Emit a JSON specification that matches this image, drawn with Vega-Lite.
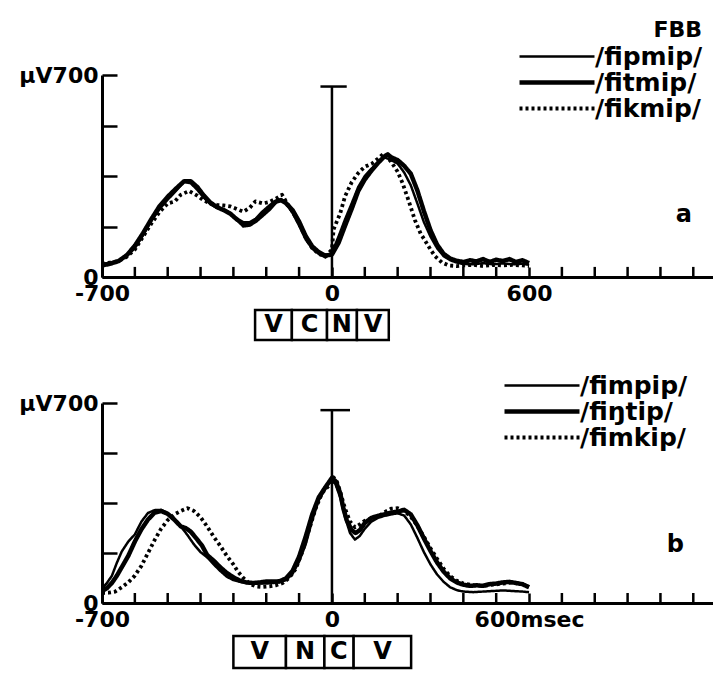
{
"$schema": "https://vega.github.io/schema/vega-lite/v6.json",
"background": "white",
"padding": {"left": 18, "top": 20, "right": 0, "bottom": 0},
"bounds": "flush",
"spacing": 33,
"datasets": {
"ticks": [{"t":-600},{"t":-500},{"t":-400},{"t":-300},{"t":-200},{"t":-100},{"t":100},{"t":200},{"t":300},{"t":400},{"t":500},{"t":700},{"t":800},{"t":900},{"t":1000},{"t":1100}],
"a_lines": [
{"s":"/fipmip/","t":-700,"v":45},{"s":"/fipmip/","t":-675,"v":50},{"s":"/fipmip/","t":-650,"v":56},{"s":"/fipmip/","t":-625,"v":72},{"s":"/fipmip/","t":-600,"v":100},{"s":"/fipmip/","t":-575,"v":145},{"s":"/fipmip/","t":-550,"v":195},{"s":"/fipmip/","t":-525,"v":235},{"s":"/fipmip/","t":-500,"v":268},{"s":"/fipmip/","t":-475,"v":298},{"s":"/fipmip/","t":-450,"v":330},{"s":"/fipmip/","t":-430,"v":325},{"s":"/fipmip/","t":-410,"v":302},{"s":"/fipmip/","t":-390,"v":275},{"s":"/fipmip/","t":-370,"v":252},{"s":"/fipmip/","t":-350,"v":240},{"s":"/fipmip/","t":-330,"v":235},{"s":"/fipmip/","t":-310,"v":222},{"s":"/fipmip/","t":-290,"v":198},{"s":"/fipmip/","t":-270,"v":175},{"s":"/fipmip/","t":-250,"v":178},{"s":"/fipmip/","t":-230,"v":192},{"s":"/fipmip/","t":-210,"v":212},{"s":"/fipmip/","t":-190,"v":232},{"s":"/fipmip/","t":-170,"v":258},{"s":"/fipmip/","t":-155,"v":270},{"s":"/fipmip/","t":-140,"v":255},{"s":"/fipmip/","t":-120,"v":222},{"s":"/fipmip/","t":-100,"v":178},{"s":"/fipmip/","t":-80,"v":130},{"s":"/fipmip/","t":-60,"v":98},{"s":"/fipmip/","t":-40,"v":80},{"s":"/fipmip/","t":-20,"v":68},{"s":"/fipmip/","t":0,"v":85},{"s":"/fipmip/","t":20,"v":140},{"s":"/fipmip/","t":40,"v":200},{"s":"/fipmip/","t":60,"v":255},{"s":"/fipmip/","t":80,"v":312},{"s":"/fipmip/","t":100,"v":350},{"s":"/fipmip/","t":120,"v":375},{"s":"/fipmip/","t":140,"v":395},{"s":"/fipmip/","t":160,"v":415},{"s":"/fipmip/","t":180,"v":405},{"s":"/fipmip/","t":200,"v":393},{"s":"/fipmip/","t":220,"v":362},{"s":"/fipmip/","t":240,"v":318},{"s":"/fipmip/","t":260,"v":255},{"s":"/fipmip/","t":280,"v":190},{"s":"/fipmip/","t":300,"v":140},{"s":"/fipmip/","t":320,"v":100},{"s":"/fipmip/","t":340,"v":72},{"s":"/fipmip/","t":360,"v":58},{"s":"/fipmip/","t":380,"v":50},{"s":"/fipmip/","t":400,"v":45},{"s":"/fipmip/","t":430,"v":44},{"s":"/fipmip/","t":460,"v":48},{"s":"/fipmip/","t":490,"v":44},{"s":"/fipmip/","t":520,"v":47},{"s":"/fipmip/","t":550,"v":44},{"s":"/fipmip/","t":580,"v":46},{"s":"/fipmip/","t":600,"v":42},
{"s":"/fitmip/","t":-700,"v":40},{"s":"/fitmip/","t":-675,"v":46},{"s":"/fitmip/","t":-650,"v":55},{"s":"/fitmip/","t":-625,"v":75},{"s":"/fitmip/","t":-600,"v":108},{"s":"/fitmip/","t":-575,"v":152},{"s":"/fitmip/","t":-550,"v":200},{"s":"/fitmip/","t":-525,"v":245},{"s":"/fitmip/","t":-500,"v":278},{"s":"/fitmip/","t":-475,"v":306},{"s":"/fitmip/","t":-450,"v":332},{"s":"/fitmip/","t":-430,"v":332},{"s":"/fitmip/","t":-410,"v":312},{"s":"/fitmip/","t":-390,"v":282},{"s":"/fitmip/","t":-370,"v":258},{"s":"/fitmip/","t":-350,"v":242},{"s":"/fitmip/","t":-330,"v":232},{"s":"/fitmip/","t":-310,"v":220},{"s":"/fitmip/","t":-290,"v":200},{"s":"/fitmip/","t":-270,"v":186},{"s":"/fitmip/","t":-250,"v":186},{"s":"/fitmip/","t":-230,"v":200},{"s":"/fitmip/","t":-210,"v":224},{"s":"/fitmip/","t":-190,"v":244},{"s":"/fitmip/","t":-170,"v":262},{"s":"/fitmip/","t":-155,"v":266},{"s":"/fitmip/","t":-140,"v":256},{"s":"/fitmip/","t":-120,"v":232},{"s":"/fitmip/","t":-100,"v":192},{"s":"/fitmip/","t":-80,"v":142},{"s":"/fitmip/","t":-60,"v":106},{"s":"/fitmip/","t":-40,"v":86},{"s":"/fitmip/","t":-20,"v":74},{"s":"/fitmip/","t":0,"v":78},{"s":"/fitmip/","t":20,"v":118},{"s":"/fitmip/","t":40,"v":178},{"s":"/fitmip/","t":60,"v":236},{"s":"/fitmip/","t":80,"v":298},{"s":"/fitmip/","t":100,"v":338},{"s":"/fitmip/","t":120,"v":368},{"s":"/fitmip/","t":140,"v":395},{"s":"/fitmip/","t":160,"v":418},{"s":"/fitmip/","t":170,"v":425},{"s":"/fitmip/","t":180,"v":415},{"s":"/fitmip/","t":200,"v":405},{"s":"/fitmip/","t":220,"v":385},{"s":"/fitmip/","t":240,"v":358},{"s":"/fitmip/","t":260,"v":300},{"s":"/fitmip/","t":280,"v":228},{"s":"/fitmip/","t":300,"v":162},{"s":"/fitmip/","t":320,"v":112},{"s":"/fitmip/","t":340,"v":80},{"s":"/fitmip/","t":360,"v":64},{"s":"/fitmip/","t":380,"v":56},{"s":"/fitmip/","t":400,"v":52},{"s":"/fitmip/","t":420,"v":58},{"s":"/fitmip/","t":440,"v":54},{"s":"/fitmip/","t":460,"v":62},{"s":"/fitmip/","t":480,"v":52},{"s":"/fitmip/","t":500,"v":60},{"s":"/fitmip/","t":520,"v":55},{"s":"/fitmip/","t":540,"v":62},{"s":"/fitmip/","t":560,"v":52},{"s":"/fitmip/","t":580,"v":58},{"s":"/fitmip/","t":600,"v":48},
{"s":"/fikmip/","t":-700,"v":45},{"s":"/fikmip/","t":-675,"v":50},{"s":"/fikmip/","t":-650,"v":55},{"s":"/fikmip/","t":-625,"v":70},{"s":"/fikmip/","t":-600,"v":95},{"s":"/fikmip/","t":-575,"v":140},{"s":"/fikmip/","t":-550,"v":185},{"s":"/fikmip/","t":-525,"v":225},{"s":"/fikmip/","t":-500,"v":255},{"s":"/fikmip/","t":-478,"v":262},{"s":"/fikmip/","t":-460,"v":285},{"s":"/fikmip/","t":-435,"v":298},{"s":"/fikmip/","t":-410,"v":282},{"s":"/fikmip/","t":-390,"v":265},{"s":"/fikmip/","t":-370,"v":255},{"s":"/fikmip/","t":-350,"v":250},{"s":"/fikmip/","t":-330,"v":248},{"s":"/fikmip/","t":-310,"v":245},{"s":"/fikmip/","t":-290,"v":236},{"s":"/fikmip/","t":-270,"v":226},{"s":"/fikmip/","t":-250,"v":240},{"s":"/fikmip/","t":-233,"v":262},{"s":"/fikmip/","t":-210,"v":255},{"s":"/fikmip/","t":-190,"v":260},{"s":"/fikmip/","t":-170,"v":272},{"s":"/fikmip/","t":-152,"v":285},{"s":"/fikmip/","t":-140,"v":262},{"s":"/fikmip/","t":-120,"v":226},{"s":"/fikmip/","t":-100,"v":186},{"s":"/fikmip/","t":-80,"v":136},{"s":"/fikmip/","t":-60,"v":100},{"s":"/fikmip/","t":-40,"v":80},{"s":"/fikmip/","t":-20,"v":72},{"s":"/fikmip/","t":0,"v":95},{"s":"/fikmip/","t":5,"v":165},{"s":"/fikmip/","t":25,"v":220},{"s":"/fikmip/","t":40,"v":280},{"s":"/fikmip/","t":60,"v":328},{"s":"/fikmip/","t":80,"v":360},{"s":"/fikmip/","t":100,"v":382},{"s":"/fikmip/","t":122,"v":393},{"s":"/fikmip/","t":140,"v":410},{"s":"/fikmip/","t":157,"v":427},{"s":"/fikmip/","t":180,"v":400},{"s":"/fikmip/","t":200,"v":365},{"s":"/fikmip/","t":215,"v":325},{"s":"/fikmip/","t":233,"v":266},{"s":"/fikmip/","t":253,"v":196},{"s":"/fikmip/","t":270,"v":150},{"s":"/fikmip/","t":283,"v":127},{"s":"/fikmip/","t":300,"v":95},{"s":"/fikmip/","t":314,"v":72},{"s":"/fikmip/","t":335,"v":50},{"s":"/fikmip/","t":356,"v":40},{"s":"/fikmip/","t":380,"v":38},{"s":"/fikmip/","t":400,"v":40},{"s":"/fikmip/","t":430,"v":42},{"s":"/fikmip/","t":460,"v":38},{"s":"/fikmip/","t":490,"v":42},{"s":"/fikmip/","t":520,"v":40},{"s":"/fikmip/","t":550,"v":42},{"s":"/fikmip/","t":580,"v":40},{"s":"/fikmip/","t":600,"v":38}
],
"b_lines": [
{"s":"/fimpip/","t":-700,"v":50},{"s":"/fimpip/","t":-685,"v":70},{"s":"/fimpip/","t":-670,"v":95},{"s":"/fimpip/","t":-655,"v":140},{"s":"/fimpip/","t":-640,"v":180},{"s":"/fimpip/","t":-620,"v":215},{"s":"/fimpip/","t":-600,"v":240},{"s":"/fimpip/","t":-580,"v":285},{"s":"/fimpip/","t":-560,"v":315},{"s":"/fimpip/","t":-540,"v":325},{"s":"/fimpip/","t":-520,"v":326},{"s":"/fimpip/","t":-500,"v":315},{"s":"/fimpip/","t":-480,"v":295},{"s":"/fimpip/","t":-460,"v":268},{"s":"/fimpip/","t":-440,"v":238},{"s":"/fimpip/","t":-420,"v":205},{"s":"/fimpip/","t":-400,"v":178},{"s":"/fimpip/","t":-380,"v":160},{"s":"/fimpip/","t":-360,"v":135},{"s":"/fimpip/","t":-340,"v":112},{"s":"/fimpip/","t":-320,"v":92},{"s":"/fimpip/","t":-300,"v":80},{"s":"/fimpip/","t":-280,"v":74},{"s":"/fimpip/","t":-260,"v":70},{"s":"/fimpip/","t":-240,"v":68},{"s":"/fimpip/","t":-220,"v":68},{"s":"/fimpip/","t":-200,"v":68},{"s":"/fimpip/","t":-180,"v":70},{"s":"/fimpip/","t":-160,"v":72},{"s":"/fimpip/","t":-140,"v":80},{"s":"/fimpip/","t":-120,"v":102},{"s":"/fimpip/","t":-100,"v":145},{"s":"/fimpip/","t":-80,"v":205},{"s":"/fimpip/","t":-60,"v":290},{"s":"/fimpip/","t":-40,"v":360},{"s":"/fimpip/","t":-20,"v":400},{"s":"/fimpip/","t":-5,"v":430},{"s":"/fimpip/","t":10,"v":418},{"s":"/fimpip/","t":25,"v":370},{"s":"/fimpip/","t":40,"v":300},{"s":"/fimpip/","t":55,"v":245},{"s":"/fimpip/","t":70,"v":222},{"s":"/fimpip/","t":85,"v":235},{"s":"/fimpip/","t":100,"v":260},{"s":"/fimpip/","t":120,"v":285},{"s":"/fimpip/","t":140,"v":298},{"s":"/fimpip/","t":160,"v":305},{"s":"/fimpip/","t":180,"v":310},{"s":"/fimpip/","t":200,"v":314},{"s":"/fimpip/","t":220,"v":306},{"s":"/fimpip/","t":240,"v":275},{"s":"/fimpip/","t":260,"v":228},{"s":"/fimpip/","t":280,"v":178},{"s":"/fimpip/","t":300,"v":135},{"s":"/fimpip/","t":320,"v":100},{"s":"/fimpip/","t":340,"v":74},{"s":"/fimpip/","t":360,"v":55},{"s":"/fimpip/","t":380,"v":45},{"s":"/fimpip/","t":400,"v":40},{"s":"/fimpip/","t":430,"v":38},{"s":"/fimpip/","t":460,"v":40},{"s":"/fimpip/","t":490,"v":42},{"s":"/fimpip/","t":520,"v":44},{"s":"/fimpip/","t":550,"v":42},{"s":"/fimpip/","t":580,"v":40},{"s":"/fimpip/","t":600,"v":38},
{"s":"/fiŋtip/","t":-700,"v":42},{"s":"/fiŋtip/","t":-685,"v":52},{"s":"/fiŋtip/","t":-670,"v":70},{"s":"/fiŋtip/","t":-655,"v":95},{"s":"/fiŋtip/","t":-640,"v":125},{"s":"/fiŋtip/","t":-620,"v":165},{"s":"/fiŋtip/","t":-600,"v":215},{"s":"/fiŋtip/","t":-580,"v":258},{"s":"/fiŋtip/","t":-560,"v":292},{"s":"/fiŋtip/","t":-540,"v":316},{"s":"/fiŋtip/","t":-520,"v":322},{"s":"/fiŋtip/","t":-500,"v":312},{"s":"/fiŋtip/","t":-480,"v":292},{"s":"/fiŋtip/","t":-460,"v":268},{"s":"/fiŋtip/","t":-445,"v":262},{"s":"/fiŋtip/","t":-430,"v":250},{"s":"/fiŋtip/","t":-410,"v":222},{"s":"/fiŋtip/","t":-395,"v":200},{"s":"/fiŋtip/","t":-380,"v":168},{"s":"/fiŋtip/","t":-360,"v":148},{"s":"/fiŋtip/","t":-340,"v":125},{"s":"/fiŋtip/","t":-320,"v":105},{"s":"/fiŋtip/","t":-300,"v":90},{"s":"/fiŋtip/","t":-280,"v":78},{"s":"/fiŋtip/","t":-260,"v":72},{"s":"/fiŋtip/","t":-240,"v":70},{"s":"/fiŋtip/","t":-220,"v":72},{"s":"/fiŋtip/","t":-200,"v":75},{"s":"/fiŋtip/","t":-180,"v":75},{"s":"/fiŋtip/","t":-160,"v":76},{"s":"/fiŋtip/","t":-140,"v":86},{"s":"/fiŋtip/","t":-120,"v":112},{"s":"/fiŋtip/","t":-100,"v":162},{"s":"/fiŋtip/","t":-80,"v":232},{"s":"/fiŋtip/","t":-60,"v":310},{"s":"/fiŋtip/","t":-40,"v":370},{"s":"/fiŋtip/","t":-20,"v":405},{"s":"/fiŋtip/","t":0,"v":438},{"s":"/fiŋtip/","t":12,"v":425},{"s":"/fiŋtip/","t":25,"v":385},{"s":"/fiŋtip/","t":35,"v":330},{"s":"/fiŋtip/","t":45,"v":290},{"s":"/fiŋtip/","t":60,"v":255},{"s":"/fiŋtip/","t":72,"v":245},{"s":"/fiŋtip/","t":85,"v":255},{"s":"/fiŋtip/","t":100,"v":280},{"s":"/fiŋtip/","t":120,"v":298},{"s":"/fiŋtip/","t":140,"v":305},{"s":"/fiŋtip/","t":160,"v":310},{"s":"/fiŋtip/","t":180,"v":316},{"s":"/fiŋtip/","t":200,"v":320},{"s":"/fiŋtip/","t":220,"v":326},{"s":"/fiŋtip/","t":240,"v":310},{"s":"/fiŋtip/","t":260,"v":272},{"s":"/fiŋtip/","t":280,"v":226},{"s":"/fiŋtip/","t":300,"v":182},{"s":"/fiŋtip/","t":320,"v":142},{"s":"/fiŋtip/","t":340,"v":110},{"s":"/fiŋtip/","t":360,"v":86},{"s":"/fiŋtip/","t":380,"v":72},{"s":"/fiŋtip/","t":400,"v":64},{"s":"/fiŋtip/","t":420,"v":60},{"s":"/fiŋtip/","t":440,"v":62},{"s":"/fiŋtip/","t":460,"v":60},{"s":"/fiŋtip/","t":480,"v":66},{"s":"/fiŋtip/","t":500,"v":68},{"s":"/fiŋtip/","t":520,"v":72},{"s":"/fiŋtip/","t":540,"v":74},{"s":"/fiŋtip/","t":560,"v":70},{"s":"/fiŋtip/","t":580,"v":66},{"s":"/fiŋtip/","t":600,"v":55},
{"s":"/fimkip/","t":-700,"v":35},{"s":"/fimkip/","t":-680,"v":36},{"s":"/fimkip/","t":-660,"v":40},{"s":"/fimkip/","t":-640,"v":55},{"s":"/fimkip/","t":-620,"v":72},{"s":"/fimkip/","t":-600,"v":96},{"s":"/fimkip/","t":-580,"v":130},{"s":"/fimkip/","t":-560,"v":175},{"s":"/fimkip/","t":-540,"v":220},{"s":"/fimkip/","t":-520,"v":260},{"s":"/fimkip/","t":-500,"v":290},{"s":"/fimkip/","t":-480,"v":310},{"s":"/fimkip/","t":-460,"v":322},{"s":"/fimkip/","t":-440,"v":332},{"s":"/fimkip/","t":-420,"v":322},{"s":"/fimkip/","t":-400,"v":300},{"s":"/fimkip/","t":-380,"v":268},{"s":"/fimkip/","t":-360,"v":232},{"s":"/fimkip/","t":-340,"v":200},{"s":"/fimkip/","t":-320,"v":165},{"s":"/fimkip/","t":-300,"v":135},{"s":"/fimkip/","t":-287,"v":111},{"s":"/fimkip/","t":-270,"v":88},{"s":"/fimkip/","t":-248,"v":66},{"s":"/fimkip/","t":-230,"v":58},{"s":"/fimkip/","t":-210,"v":56},{"s":"/fimkip/","t":-190,"v":58},{"s":"/fimkip/","t":-170,"v":62},{"s":"/fimkip/","t":-150,"v":70},{"s":"/fimkip/","t":-130,"v":88},{"s":"/fimkip/","t":-110,"v":120},{"s":"/fimkip/","t":-90,"v":180},{"s":"/fimkip/","t":-70,"v":255},{"s":"/fimkip/","t":-50,"v":330},{"s":"/fimkip/","t":-30,"v":385},{"s":"/fimkip/","t":-10,"v":410},{"s":"/fimkip/","t":5,"v":440},{"s":"/fimkip/","t":15,"v":425},{"s":"/fimkip/","t":25,"v":390},{"s":"/fimkip/","t":40,"v":330},{"s":"/fimkip/","t":55,"v":285},{"s":"/fimkip/","t":70,"v":265},{"s":"/fimkip/","t":85,"v":275},{"s":"/fimkip/","t":100,"v":288},{"s":"/fimkip/","t":120,"v":296},{"s":"/fimkip/","t":140,"v":302},{"s":"/fimkip/","t":160,"v":318},{"s":"/fimkip/","t":180,"v":330},{"s":"/fimkip/","t":200,"v":332},{"s":"/fimkip/","t":220,"v":322},{"s":"/fimkip/","t":240,"v":302},{"s":"/fimkip/","t":260,"v":270},{"s":"/fimkip/","t":280,"v":232},{"s":"/fimkip/","t":300,"v":192},{"s":"/fimkip/","t":320,"v":155},{"s":"/fimkip/","t":340,"v":120},{"s":"/fimkip/","t":360,"v":94},{"s":"/fimkip/","t":380,"v":78},{"s":"/fimkip/","t":400,"v":68},{"s":"/fimkip/","t":430,"v":62},{"s":"/fimkip/","t":460,"v":60},{"s":"/fimkip/","t":490,"v":64},{"s":"/fimkip/","t":520,"v":68},{"s":"/fimkip/","t":550,"v":72},{"s":"/fimkip/","t":580,"v":66},{"s":"/fimkip/","t":600,"v":56}
],
"a_box": [{"t":-234,"t2":-122,"mid":-178,"lab":"V"},{"t":-122,"t2":-15,"mid":-68,"lab":"C"},{"t":-15,"t2":76,"mid":30,"lab":"N"},{"t":76,"t2":173,"mid":125,"lab":"V"}],
"b_box": [{"t":-300,"t2":-140,"mid":-220,"lab":"V"},{"t":-140,"t2":-23,"mid":-82,"lab":"N"},{"t":-23,"t2":66,"mid":21,"lab":"C"},{"t":66,"t2":241,"mid":154,"lab":"V"}]
},
"vconcat": [
 {"width": 611, "height": 202,
  "layer": [
   {"data": {"name": "a_lines"},
    "mark": {"type": "line", "color": "black", "strokeJoin": "round"},
    "encoding": {
     "x": {"field": "t", "type": "quantitative", "title": null, "scale": {"domain": [-700, 1160], "nice": false, "zero": false},
      "axis": {"values": [-700, 0, 600], "tickSize": -10, "labelPadding": 16, "labelOverlap": false, "labelFlush": false, "labelBound": false, "labelExpr": "datum.value == -700 ? '-700' : datum.value == 0 ? '0' : '600'"}},
     "y": {"field": "v", "type": "quantitative", "title": null, "scale": {"domain": [0, 700], "nice": false},
      "axis": {"values": [0,175,350,525,700], "labelExpr": "datum.value == 700 ? 'µV700' : datum.value == 0 ? '0' : ''", "tickSize": -15, "labelPadding": 19, "labelOverlap": false, "labelFlush": false, "labelBound": false,
       "encode": {"labels": {"update": {"dy": {"signal": "datum.value == 0 ? -11 : 0"}}}}}},
     "strokeDash": {"field": "s", "type": "nominal", "scale": {"domain": ["/fipmip/","/fitmip/","/fikmip/"], "range": [[1,0],[1,0],[3,3]]},
      "legend": {"orient": "none", "legendX": 466, "legendY": -55, "title": "FBB", "titleAnchor": "end", "titleFontSize": 22, "titleFont": "DejaVu Sans", "titleFontWeight": "bold", "titleColor": "black", "titlePadding": 2, "labelFont": "DejaVu Sans", "labelFontWeight": "bold", "labelFontSize": 25, "labelColor": "black", "labelOffset": 2, "labelLimit": 300, "symbolType": "M-12.2,0L2.8,0", "symbolSize": 100, "symbolStrokeColor": "black", "rowPadding": -1, "padding": 0}},
     "strokeWidth": {"field": "s", "type": "nominal", "scale": {"type": "ordinal", "domain": ["/fipmip/","/fitmip/","/fikmip/"], "range": [2.5, 4.5, 3.8]},
      "legend": {"orient": "none", "legendX": 466, "legendY": -55, "title": "FBB", "titleAnchor": "end", "titleFontSize": 22, "titleFont": "DejaVu Sans", "titleFontWeight": "bold", "titleColor": "black", "titlePadding": 2, "labelFont": "DejaVu Sans", "labelFontWeight": "bold", "labelFontSize": 25, "labelColor": "black", "labelOffset": 2, "labelLimit": 300, "symbolType": "M-12.2,0L2.8,0", "symbolSize": 100, "symbolStrokeColor": "black", "rowPadding": -1, "padding": 0}}
    }},
   {"data": {"name": "ticks"},
    "mark": {"type": "rule", "color": "black", "strokeWidth": 2.5},
    "encoding": {"x": {"field": "t", "type": "quantitative", "title": null}, "y": {"datum": 0, "type": "quantitative", "title": null}, "y2": {"datum": 35}}},
   {"data": {"values": [{"t": 0, "v": 0, "v2": 660}]},
    "mark": {"type": "rule", "color": "black", "strokeWidth": 2.5},
    "encoding": {"x": {"field": "t", "type": "quantitative", "title": null}, "y": {"field": "v", "type": "quantitative", "title": null}, "y2": {"field": "v2"}}},
   {"data": {"values": [{"t": -35, "t2": 45, "v": 660}]},
    "mark": {"type": "rule", "color": "black", "strokeWidth": 2.5},
    "encoding": {"x": {"field": "t", "type": "quantitative", "title": null}, "x2": {"field": "t2"}, "y": {"field": "v", "type": "quantitative", "title": null}}},
   {"data": {"values": [{"t": 1071, "v": 215, "lab": "a"}]},
    "mark": {"type": "text", "color": "black", "fontSize": 24, "font": "DejaVu Sans", "fontWeight": "bold"},
    "encoding": {"x": {"field": "t", "type": "quantitative", "title": null}, "y": {"field": "v", "type": "quantitative", "title": null}, "text": {"field": "lab"}}}
  ]},
 {"width": 611, "height": 60, "data": {"name": "a_box"},
  "layer": [
   {"mark": {"type": "rect", "fill": "white", "stroke": "black", "strokeWidth": 2.5},
    "encoding": {"x": {"field": "t", "type": "quantitative", "scale": {"domain": [-700, 1160], "nice": false, "zero": false}, "axis": null}, "x2": {"field": "t2"},
     "y": {"datum": "box", "type": "nominal", "scale": {"domain": ["box", "gap"], "paddingInner": 0, "paddingOuter": 0}, "axis": null}}},
   {"mark": {"type": "text", "color": "black", "fontSize": 24, "font": "DejaVu Sans", "fontWeight": "bold"},
    "encoding": {"x": {"field": "mid", "type": "quantitative", "axis": null}, "y": {"datum": "box", "type": "nominal", "axis": null}, "text": {"field": "lab"}}}
  ]},
 {"width": 611, "height": 200,
  "layer": [
   {"data": {"name": "b_lines"},
    "mark": {"type": "line", "color": "black", "strokeJoin": "round"},
    "encoding": {
     "x": {"field": "t", "type": "quantitative", "title": null, "scale": {"domain": [-700, 1160], "nice": false, "zero": false},
      "axis": {"values": [-700, 0, 600], "tickSize": -10, "labelPadding": 16, "labelOverlap": false, "labelFlush": false, "labelBound": false, "labelExpr": "datum.value == -700 ? '-700' : datum.value == 0 ? '0' : '600msec'",
       "encode": {"labels": {"update": {"align": {"signal": "datum.value == 600 ? 'left' : 'center'"}, "dx": {"signal": "datum.value == 600 ? -22 : 0"}}}}}},
     "y": {"field": "v", "type": "quantitative", "title": null, "scale": {"domain": [0, 700], "nice": false},
      "axis": {"values": [0,175,350,525,700], "labelExpr": "datum.value == 700 ? 'µV700' : datum.value == 0 ? '0' : ''", "tickSize": -15, "labelPadding": 19, "labelOverlap": false, "labelFlush": false, "labelBound": false,
       "encode": {"labels": {"update": {"dy": {"signal": "datum.value == 0 ? -11 : 0"}}}}}},
     "strokeDash": {"field": "s", "type": "nominal", "scale": {"domain": ["/fimpip/","/fiŋtip/","/fimkip/"], "range": [[1,0],[1,0],[3,3]]},
      "legend": {"orient": "none", "legendX": 451, "legendY": -30, "title": null, "labelFont": "DejaVu Sans", "labelFontWeight": "bold", "labelFontSize": 25, "labelColor": "black", "labelOffset": 2, "labelLimit": 300, "symbolType": "M-12.2,0L2.8,0", "symbolSize": 100, "symbolStrokeColor": "black", "rowPadding": 0, "padding": 0}},
     "strokeWidth": {"field": "s", "type": "nominal", "scale": {"type": "ordinal", "domain": ["/fimpip/","/fiŋtip/","/fimkip/"], "range": [2.5, 4.5, 3.8]},
      "legend": {"orient": "none", "legendX": 451, "legendY": -30, "title": null, "labelFont": "DejaVu Sans", "labelFontWeight": "bold", "labelFontSize": 25, "labelColor": "black", "labelOffset": 2, "labelLimit": 300, "symbolType": "M-12.2,0L2.8,0", "symbolSize": 100, "symbolStrokeColor": "black", "rowPadding": 0, "padding": 0}}
    }},
   {"data": {"name": "ticks"},
    "mark": {"type": "rule", "color": "black", "strokeWidth": 2.5},
    "encoding": {"x": {"field": "t", "type": "quantitative", "title": null}, "y": {"datum": 0, "type": "quantitative", "title": null}, "y2": {"datum": 35}}},
   {"data": {"values": [{"t": 0, "v": 0, "v2": 675}]},
    "mark": {"type": "rule", "color": "black", "strokeWidth": 2.5},
    "encoding": {"x": {"field": "t", "type": "quantitative", "title": null}, "y": {"field": "v", "type": "quantitative", "title": null}, "y2": {"field": "v2"}}},
   {"data": {"values": [{"t": -35, "t2": 55, "v": 675}]},
    "mark": {"type": "rule", "color": "black", "strokeWidth": 2.5},
    "encoding": {"x": {"field": "t", "type": "quantitative", "title": null}, "x2": {"field": "t2"}, "y": {"field": "v", "type": "quantitative", "title": null}}},
   {"data": {"values": [{"t": 1045, "v": 203, "lab": "b"}]},
    "mark": {"type": "text", "color": "black", "fontSize": 24, "font": "DejaVu Sans", "fontWeight": "bold"},
    "encoding": {"x": {"field": "t", "type": "quantitative", "title": null}, "y": {"field": "v", "type": "quantitative", "title": null}, "text": {"field": "lab"}}}
  ]},
 {"width": 611, "height": 32, "data": {"name": "b_box"},
  "layer": [
   {"mark": {"type": "rect", "fill": "white", "stroke": "black", "strokeWidth": 2.5},
    "encoding": {"x": {"field": "t", "type": "quantitative", "scale": {"domain": [-700, 1160], "nice": false, "zero": false}, "axis": null}, "x2": {"field": "t2"}}},
   {"mark": {"type": "text", "color": "black", "fontSize": 24, "font": "DejaVu Sans", "fontWeight": "bold"},
    "encoding": {"x": {"field": "mid", "type": "quantitative", "axis": null}, "text": {"field": "lab"}}}
  ]}
],
"resolve": {"scale": {"x": "independent", "y": "independent", "strokeDash": "independent", "strokeWidth": "independent"}, "legend": {"strokeDash": "independent", "strokeWidth": "independent"}},
"config": {
 "view": {"stroke": null},
 "font": "DejaVu Sans",
 "axis": {"domainColor": "black", "domainWidth": 3, "tickColor": "black", "tickWidth": 2.5, "labelColor": "black", "labelFont": "DejaVu Sans", "labelFontWeight": "bold", "labelFontSize": 22, "grid": false, "labelOverlap": false}
}
}
